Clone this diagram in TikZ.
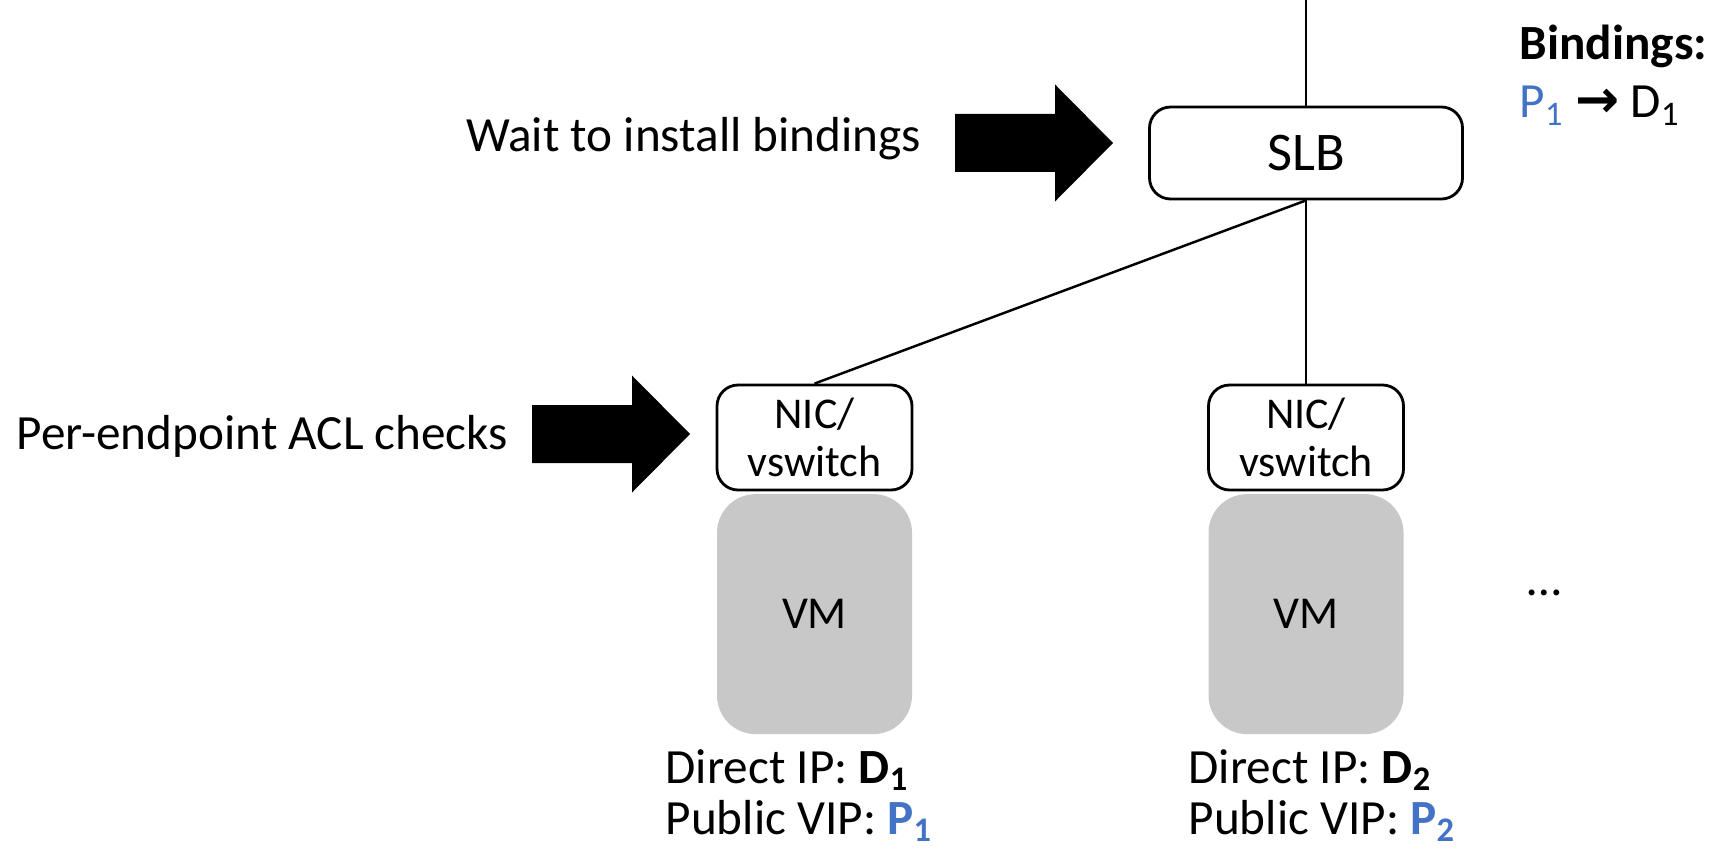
\documentclass[tikz,border=0pt]{standalone}
\usepackage{fontspec}
\setmainfont{Carlito}
\newfontfamily\symfont{DejaVu Sans}
\usepackage{xcolor}
\usetikzlibrary{positioning, math}
\definecolor{vipblue}{RGB}{68,114,196}
\definecolor{vmgray}{RGB}{200,200,200}

\begin{document}
\begin{tikzpicture}[
  wire/.style={line width=0.7pt},
  slbbox/.style={draw, line width=0.8pt, rounded corners=6pt, minimum width=3.13cm, minimum height=0.92cm, font=\fontsize{15.5}{17}\selectfont},
  nicbox/.style={draw, line width=0.8pt, rounded corners=6pt, minimum width=1.95cm, minimum height=1.05cm, inner sep=0pt, align=center, font=\fontsize{12.5}{13.6}\selectfont},
  vmbox/.style={fill=vmgray, rounded corners=11pt, minimum width=1.95cm, minimum height=2.40cm, inner sep=0pt, font=\fontsize{13}{14}\selectfont},
  lbl/.style={inner sep=0pt, align=left, font=\fontsize{14}{14.5}\selectfont},
  fatarrow/.pic={\fill (0,0.29) -- (1.0,0.29) -- (1.0,0.585) -- (1.58,0) -- (1.0,-0.585) -- (1.0,-0.29) -- (0,-0.29) -- cycle;}
]
\tikzmath{
\W=17.21; \H=8.48;
}
\useasboundingbox (0,0) rectangle (\W,\H);

% load balancer and hosts
\node[slbbox] (slb) at (13.06,6.95) {SLB};
\node[nicbox] (nicA) at (8.145,4.105) {NIC/\\vswitch};
\node[nicbox] (nicB) at (13.06,4.105) {NIC/\\vswitch};
\node[vmbox, below=0.02cm of nicA] (vmA) {VM};
\node[vmbox, below=0.02cm of nicB] (vmB) {VM};

\coordinate (feed) at (13.06,\H);
\draw[wire] (feed) -- (slb.north);
\draw[wire] (slb.south) -- (nicA.north);
\draw[wire] (slb.south) -- (nicB.north);

% big arrows
\pic at (9.55,7.05) {fatarrow};
\pic at (5.32,4.14) {fatarrow};

\node[lbl, anchor=east] (waitlbl) at (9.22,7.09) {Wait to install bindings};
\node[lbl, anchor=west] (acllbl) at (0.16,4.12) {Per-endpoint ACL checks};

% bindings table
\node[lbl, anchor=west, font=\fontsize{14}{14.5}\bfseries] (bindlbl) at (15.19,8.02) {Bindings:};
\node[lbl, anchor=west] (bindrow) at (15.19,7.42) {\textcolor{vipblue}{P\textsubscript{1}} {\symfont\bfseries\fontsize{15}{15}\selectfont →} D\textsubscript{1}};

\node[lbl] (dots) at (15.44,2.55) {…};

% addresses
\node[lbl, anchor=west] (addrA) at (6.65,0.525) {Direct IP: \textbf{D\textsubscript{1}}\\Public VIP: \textcolor{vipblue}{\textbf{P\textsubscript{1}}}};
\node[lbl, anchor=west] (addrB) at (11.88,0.525) {Direct IP: \textbf{D\textsubscript{2}}\\Public VIP: \textcolor{vipblue}{\textbf{P\textsubscript{2}}}};
\end{tikzpicture}
\end{document}
